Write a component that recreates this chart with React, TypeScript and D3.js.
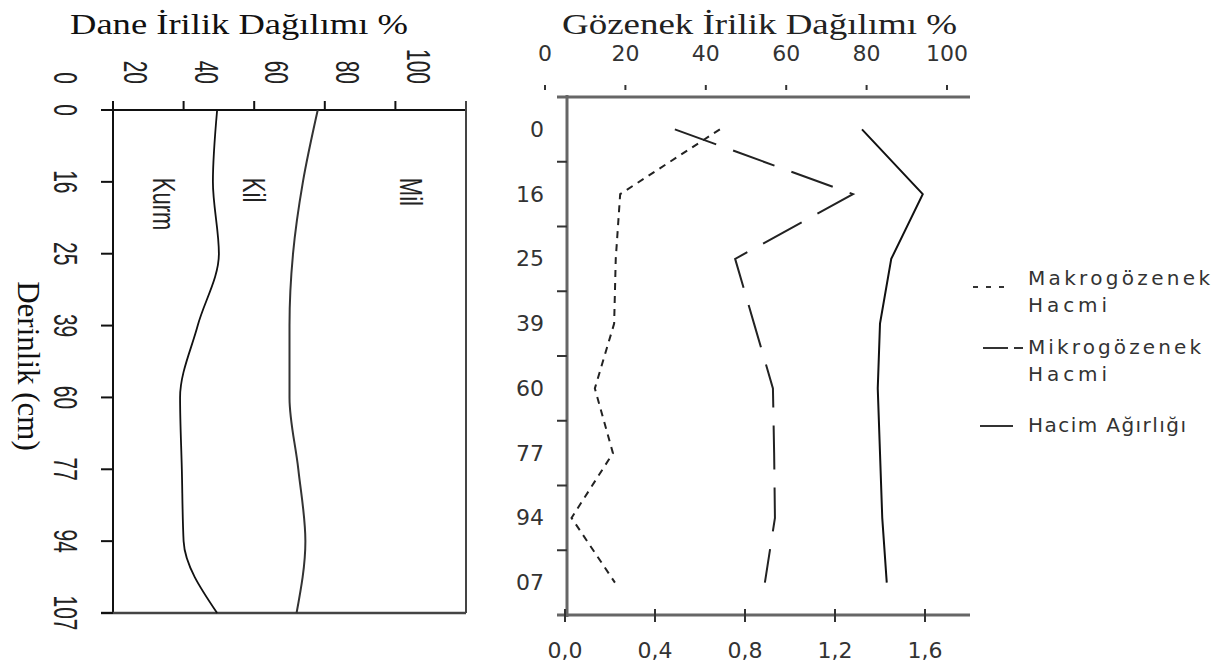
import React from 'react';
import * as d3 from 'd3';

// depth categories (cm)
const depthsLeft = ['0', '16', '25', '39', '60', '77', '94', '107'];
const depthsRight = ['0', '16', '25', '39', '60', '77', '94', '07'];

// particle size distribution, % (Kum / Kil / Mil)
const kum = [29.5, 28.3, 30.0, 24.0, 19.0, 19.5, 20.0, 29.5];
const kil = [28.5, 25.5, 21.0, 26.0, 31.0, 33.0, 34.5, 22.5];
const mil = [42.0, 46.2, 49.0, 50.0, 50.0, 47.5, 45.5, 48.0];

// pore volumes (%) and bulk density (g/cm3)
const makro = [43.5, 18.7, 17.6, 17.2, 12.4, 16.9, 6.6, 17.4];
const mikro = [32.3, 76.6, 47.3, 52.0, 56.7, 57.0, 57.2, 54.7];
const hacim = [1.32, 1.59, 1.45, 1.4, 1.39, 1.4, 1.41, 1.43];

const pctTicks = [0, 20, 40, 60, 80, 100];
const densTicks = [0, 0.4, 0.8, 1.2, 1.6];

const legendItems = [
  { lines: ['Makrogözenek', 'Hacmi'], dash: '5,8', widths: [182, 79] },
  { lines: ['Mikrogözenek', 'Hacmi'], dash: '25,6,9,200', widths: [173, 79] },
  { lines: ['Hacim Ağırlığı'], dash: null, widths: [158] },
];

const serif = '"Liberation Serif", "Times New Roman", serif';
const sans = '"Liberation Sans", Arial, sans-serif';
const verd = '"DejaVu Sans", Verdana, sans-serif';

export default function App() {
  // ---- left chart scales
  const xL = d3.scaleLinear().domain([0, 100]).range([113, 466]);
  const yL = d3.scalePoint().domain(depthsLeft).range([110, 613]);

  const rows = depthsLeft.map((d, i) => ({ depth: d, kum: kum[i], kil: kil[i], mil: mil[i] }));
  const stacked = d3.stack().keys(['kum', 'kil', 'mil'])(rows as any);
  const boundary = d3
    .line<any>()
    .x(p => xL(p[1]))
    .y((p, i) => yL(depthsLeft[i]) as number)
    .curve(d3.curveMonotoneY);

  // ---- right chart scales
  const xTop = d3.scaleLinear().domain([0, 100]).range([545, 947]);
  const xBot = d3.scaleLinear().domain([0, 1.8]).range([565, 970]);
  const yR = d3.scaleBand().domain(depthsRight).range([97, 615]);
  const yC = (i: number) => (yR(depthsRight[i]) as number) + yR.bandwidth() / 2;

  const lineTop = d3.line<number>().x(v => xTop(v)).y((v, i) => yC(i));
  const lineBot = d3.line<number>().x(v => xBot(v)).y((v, i) => yC(i));

  const labelOffset = 48; // tick labels sit left of their ticks in the original

  return (
    <svg width={1222} height={666} style={{ position: 'absolute', left: 0, top: 0, background: '#fff' }}>
      {/* titles */}
      <text x={70} y={34} fontFamily={serif} fontSize={29} textLength={338} lengthAdjust="spacingAndGlyphs" fill="#111">
        Dane İrilik Dağılımı %
      </text>
      <text x={562} y={34} fontFamily={serif} fontSize={29} textLength={395} lengthAdjust="spacingAndGlyphs" fill="#222">
        Gözenek İrilik Dağılımı %
      </text>

      {/* ---------- left chart ---------- */}
      <g stroke="#111" strokeWidth={2} fill="none">
        <line x1={101} x2={466} y1={110} y2={110} />
        <line x1={113} x2={113} y1={101} y2={613} />
        <line x1={466} x2={466} y1={101} y2={613} stroke="#444" />
        <line x1={101} x2={466} y1={613} y2={613} stroke="#444" strokeWidth={2.5} />
        {pctTicks.slice(1, 5).map(v => (
          <line key={v} x1={xL(v)} x2={xL(v)} y1={101} y2={110} />
        ))}
        {depthsLeft.map(d => (
          <line key={d} x1={101} x2={113} y1={yL(d)} y2={yL(d)} />
        ))}
      </g>
      {stacked.slice(0, 2).map((s, k) => (
        <path key={k} d={boundary(s as any) || ''} fill="none" stroke={k === 0 ? '#111' : '#333'} strokeWidth={k === 0 ? 1.8 : 2} />
      ))}
      {pctTicks.map(v => (
        <text
          key={v}
          transform={`translate(${xL(v) - labelOffset},84) rotate(90) scale(1,1.6)`}
          textAnchor="end"
          dominantBaseline="central"
          fontFamily={sans}
          fontSize={21}
          fill="#222"
        >
          {v}
        </text>
      ))}
      {depthsLeft.map(d => (
        <text
          key={d}
          transform={`translate(65,${yL(d)}) rotate(90) scale(1,1.6)`}
          textAnchor="middle"
          dominantBaseline="central"
          fontFamily={sans}
          fontSize={21}
          fill="#222"
        >
          {d}
        </text>
      ))}
      <text transform="translate(28,366) rotate(90)" textAnchor="middle" dominantBaseline="central" fontFamily={serif} fontSize={31} fill="#111">
        Derinlik (cm)
      </text>
      {[
        { t: 'Kurm', v: 14.5 },
        { t: 'Kil', v: 40 },
        { t: 'Mil', v: 84.5 },
      ].map(l => (
        <text
          key={l.t}
          transform={`translate(${xL(l.v)},${(yL('16') as number) - 4}) rotate(90) scale(1,1.45)`}
          textAnchor="start"
          dominantBaseline="central"
          fontFamily={sans}
          fontSize={22}
          fill="#222"
        >
          {l.t}
        </text>
      ))}

      {/* ---------- right chart ---------- */}
      <g stroke="#666" strokeWidth={3} fill="none">
        <line x1={557} x2={970} y1={97} y2={97} />
        <line x1={567} x2={567} y1={95} y2={617} />
        <line x1={557} x2={970} y1={615} y2={615} />
      </g>
      <g stroke="#333" strokeWidth={2}>
        {pctTicks.map(v => (
          <line key={v} x1={xTop(v)} x2={xTop(v)} y1={85} y2={90} />
        ))}
        {depthsRight.slice(1).map(d => (
          <line key={d} x1={557} x2={567} y1={yR(d)} y2={yR(d)} />
        ))}
        {densTicks.map(v => (
          <line key={v} x1={xBot(v)} x2={xBot(v)} y1={609} y2={622} />
        ))}
      </g>
      {pctTicks.map(v => (
        <text key={v} x={xTop(v)} y={53} textAnchor="middle" dominantBaseline="central" fontFamily={verd} fontSize={22} fill="#333">
          {v}
        </text>
      ))}
      {densTicks.map(v => (
        <text key={v} x={xBot(v)} y={650} textAnchor="middle" dominantBaseline="central" fontFamily={verd} fontSize={22} fill="#333">
          {d3.format('.1f')(v).replace('.', ',')}
        </text>
      ))}
      {depthsRight.map((d, i) => (
        <text key={d} x={544} y={yC(i)} textAnchor="end" dominantBaseline="central" fontFamily={verd} fontSize={22} fill="#333">
          {d}
        </text>
      ))}

      <path d={lineTop(makro) || ''} fill="none" stroke="#222" strokeWidth={2} strokeDasharray="7,6" />
      <path d={lineTop(mikro) || ''} fill="none" stroke="#222" strokeWidth={2} strokeDasharray="44,18" />
      <path d={lineBot(hacim) || ''} fill="none" stroke="#111" strokeWidth={2} />

      {/* legend */}
      {legendItems.map((item, i) => {
        const y0 = [278, 347, 425][i];
        return (
          <g key={i}>
            <line
              x1={i === 0 ? 973 : i === 1 ? 983 : 980}
              x2={i === 0 ? 1012 : i === 1 ? 1024 : 1013}
              y1={y0 + (i === 0 ? 9 : 1)}
              y2={y0 + (i === 0 ? 9 : 1)}
              stroke="#333"
              strokeWidth={2}
              strokeDasharray={item.dash || undefined}
            />
            {item.lines.map((t, j) => (
              <text
                key={j}
                x={1028}
                y={y0 + j * 27}
                dominantBaseline="central"
                fontFamily={verd}
                fontSize={20}
                textLength={item.widths[j]}
                lengthAdjust="spacing"
                fill="#333"
              >
                {t}
              </text>
            ))}
          </g>
        );
      })}
    </svg>
  );
}
